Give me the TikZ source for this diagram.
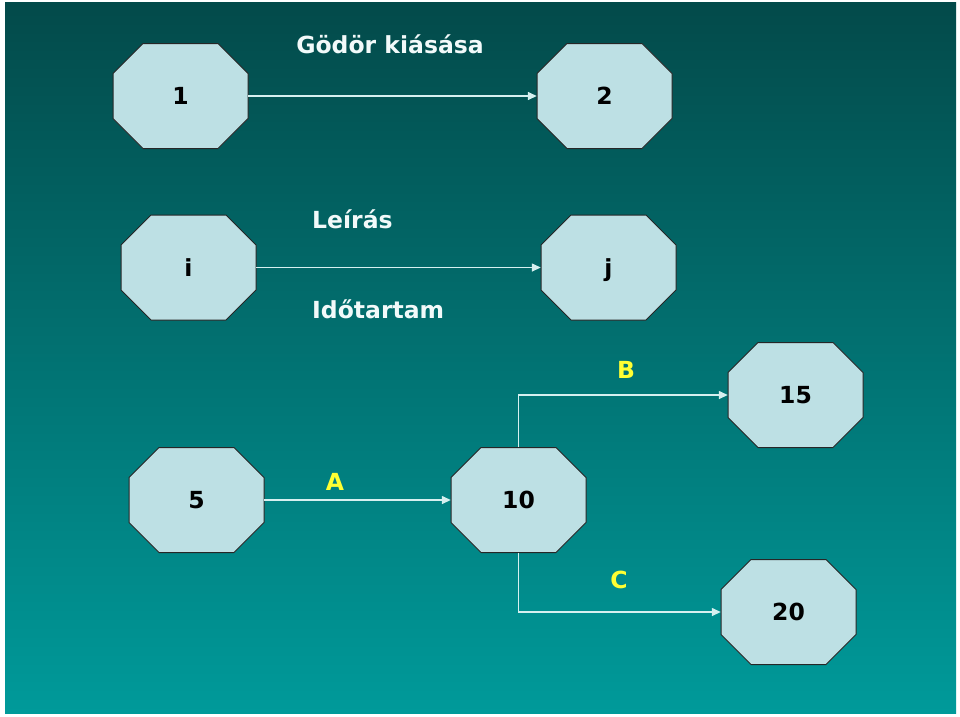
\documentclass[tikz,border=0pt]{standalone}
\usepackage{fontspec}
\setmainfont{DejaVu Sans}
\usetikzlibrary{arrows.meta}
\definecolor{bgtop}{HTML}{034A4A}
\definecolor{bgbot}{HTML}{009A9A}
\definecolor{octfill}{HTML}{BDE0E4}
\definecolor{lin}{HTML}{D6F0F0}
\definecolor{lbl}{HTML}{F2FAFA}
\definecolor{yel}{HTML}{FFFF33}
\newcommand\octnode[4]{%
  \filldraw[octshape, shift={(#2,#3)}] (-37.5,-52.5) -- (37.5,-52.5) -- (67.5,-22.5) -- (67.5,22.5)
     -- (37.5,52.5) -- (-37.5,52.5) -- (-67.5,22.5) -- (-67.5,-22.5) -- cycle;
  \node[octlbl] (#1) at (#2,#3) {#4};}
\begin{document}
\begin{tikzpicture}[x=1pt,y=-1pt,
  octshape/.style={draw=black!85, line width=1pt, fill=octfill, line join=miter},
  octlbl/.style={rectangle, minimum width=135pt, minimum height=105pt, inner sep=0pt,
    font=\fontsize{23.5}{27}\selectfont\bfseries, text height=17pt, text depth=0pt},
  conn/.style={draw=lin, line width=1.4pt, -{Triangle[length=9pt,width=8pt]}},
  ttl/.style={text=lbl, font=\fontsize{23.5}{27}\selectfont\bfseries, inner sep=0pt},
  act/.style={text=yel, font=\fontsize{23.5}{27}\selectfont\bfseries, inner sep=0pt}]
\useasboundingbox (0,0) rectangle (960,716);
\fill[white] (0,0) rectangle (960,716);
\shade[top color=bgtop, bottom color=bgbot] (5,2) rectangle (956,713);

\octnode{n1}{180.5}{96}{1}
\octnode{n2}{604.5}{96}{2}
\octnode{ni}{188.5}{267.5}{i}
\octnode{nj}{608.5}{267.5}{j}
\octnode{n15}{795.5}{395}{15}
\octnode{n5}{196.5}{500}{5}
\octnode{n10}{518.5}{500}{10}
\octnode{n20}{788.5}{612}{20}

\draw[conn] (n1) -- (n2);
\draw[conn] (ni) -- (nj);
\draw[conn] (n5) -- (n10);
\draw[conn] (n10.north) |- (n15.west);
\draw[conn] (n10.south) |- (n20.west);

\node[ttl, anchor=base] (tg) at (390,53) {Gödör kiásása};
\node[ttl, anchor=base west] (tl) at (312,228) {Leírás};
\node[ttl, anchor=base west] (tt) at (312,318) {Időtartam};
\node[act, anchor=base] (la) at (335,490) {A};
\node[act, anchor=base] (lb) at (626,378) {B};
\node[act, anchor=base] (lc) at (619,588) {C};
\end{tikzpicture}
\end{document}
